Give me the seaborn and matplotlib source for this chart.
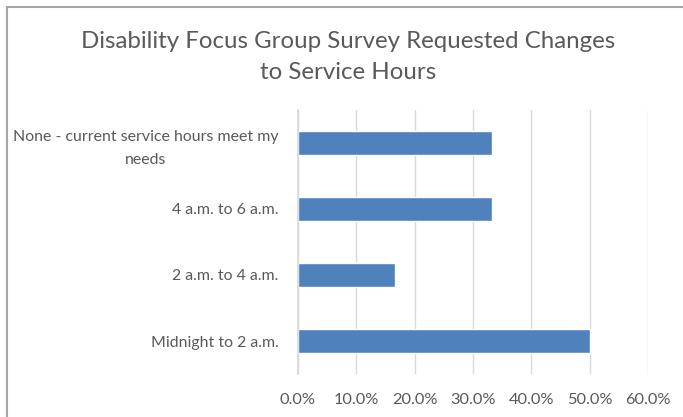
import matplotlib
matplotlib.use("Agg")
import matplotlib.pyplot as plt
import seaborn as sns
import pandas as pd
from matplotlib.ticker import FuncFormatter, MultipleLocator
from matplotlib.patches import Rectangle

categories = ["None - current service hours meet my\nneeds", "4 a.m. to 6 a.m.",
              "2 a.m. to 4 a.m.", "Midnight to 2 a.m."]
values = [0.3333, 0.3333, 0.1667, 0.50]
title = "Disability Focus Group Survey Requested Changes\nto Service Hours"

sns.set_theme(style="white")
plt.rcParams['font.family'] = ['Lato', 'DejaVu Sans']

df = pd.DataFrame({"cat": categories, "val": values})

fig = plt.figure(figsize=(6.83, 4.17), dpi=100)
ax = fig.add_axes([298/683, 1-374/417, 350/683, 264/417])
sns.barplot(data=df, y="cat", x="val", orient="h", color="#4F81BD",
            saturation=1, width=0.36, ax=ax)

ax.set_xlim(0, 0.6)
ax.xaxis.set_major_locator(MultipleLocator(0.1))
ax.xaxis.set_major_formatter(FuncFormatter(lambda v, p: f"{v*100:.1f}%"))
ax.grid(axis="x", color="#D9D9D9", linewidth=1)
ax.set_axisbelow(True)
for s in ["top", "right", "bottom"]:
    ax.spines[s].set_visible(False)
ax.spines["left"].set_color("#D9D9D9")
ax.set_xlabel("")
ax.set_ylabel("")
ax.tick_params(axis="x", length=0, labelsize=11.8, colors="#595959", pad=14)
ax.tick_params(axis="y", length=0, labelsize=11.4, colors="#595959", pad=14)
for lbl in ax.get_yticklabels():
    lbl.set_multialignment("center")
    lbl.set_linespacing(1.75)

fig.text(0.5 * (82 + 614) / 683, 1 - 57/417, title, ha="center", va="center",
         fontsize=17.3, color="#595959", linespacing=1.55)

fig.patches.append(Rectangle((7/683, -0.05), 1.05, 1 - 7/417 + 0.05,
                             transform=fig.transFigure, fill=False,
                             edgecolor="#A6A6A6", linewidth=1.5))

fig.savefig("out.png", dpi=100)
